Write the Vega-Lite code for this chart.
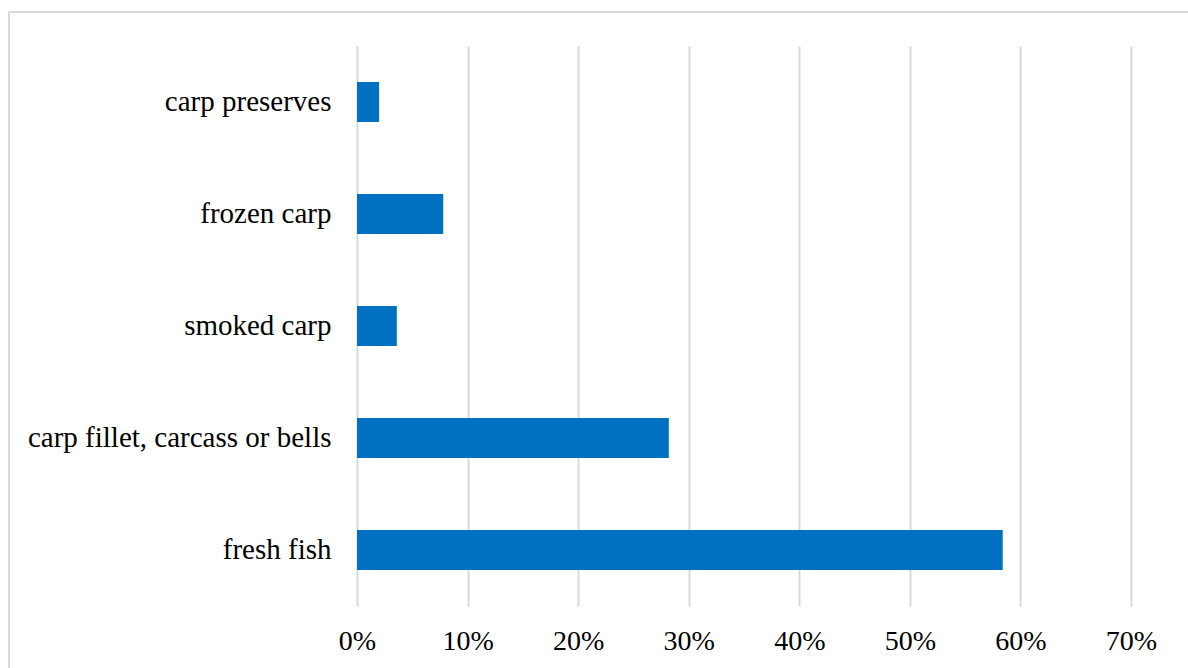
{
  "$schema": "https://vega.github.io/schema/vega-lite/v6.json",
  "width": 1185,
  "height": 665,
  "autosize": "none",
  "padding": {"left": 9, "top": 12, "right": 0, "bottom": 0},
  "background": "white",
  "config": {"view": {"stroke": "#d9d9d9", "strokeWidth": 2, "fill": "white"}, "font": "Liberation Serif, Times New Roman, DejaVu Serif, serif"},
  "data": {"values": [
    {"category": "carp preserves", "share": 0.020},
    {"category": "frozen carp", "share": 0.078},
    {"category": "smoked carp", "share": 0.036},
    {"category": "carp fillet, carcass or bells", "share": 0.282},
    {"category": "fresh fish", "share": 0.584}
  ]},
  "mark": {"type": "bar", "color": "#0070C0"},
  "encoding": {
    "y": {
      "field": "category", "type": "nominal", "sort": null,
      "scale": {"range": [34, 594], "paddingInner": 0.643, "paddingOuter": 0.3215},
      "axis": {"title": null, "offset": -348, "domain": false, "ticks": false, "labelPadding": 26, "labelFontSize": 29, "labelColor": "#000000", "labelFont": "Liberation Serif, Times New Roman, DejaVu Serif, serif", "labelLimit": 400}
    },
    "x": {
      "field": "share", "type": "quantitative",
      "scale": {"domain": [0, 0.7], "nice": false, "range": [348, 1122]},
      "axis": {"title": null, "orient": "top", "offset": -637, "format": ".0%", "values": [0, 0.1, 0.2, 0.3, 0.4, 0.5, 0.6, 0.7], "grid": true, "gridColor": "#d9d9d9", "gridWidth": 2, "domain": false, "ticks": false, "tickSize": 0, "labelFlush": false, "labelPadding": 0, "labelBaseline": "alphabetic", "labelFontSize": 28, "labelColor": "#000000", "labelFont": "Liberation Serif, Times New Roman, DejaVu Serif, serif"}
    }
  }
}
